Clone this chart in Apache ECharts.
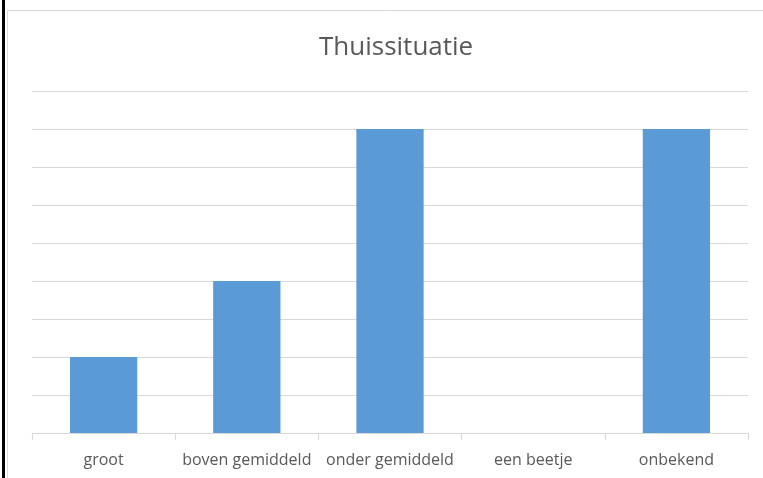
<!DOCTYPE html>
<html>
<head>
<meta charset="utf-8">
<script src="https://cdn.jsdelivr.net/npm/echarts@6/dist/echarts.min.js"></script>
<style>
  html, body { margin: 0; padding: 0; background: #fff; }
  #chart { width: 763px; height: 478px; }
</style>
</head>
<body>
<div id="chart"></div>
<script>
const categories = ['groot', 'boven gemiddeld', 'onder gemiddeld', 'een beetje', 'onbekend'];
const values = [2, 4, 8, 0, 8];

const chart = echarts.init(document.getElementById('chart'));

chart.setOption({
  animation: false,
  title: {
    text: 'Thuissituatie',
    left: 314,
    top: 30,
    textStyle: {
      fontFamily: 'Open Sans',
      fontSize: 26,
      fontWeight: 'normal',
      color: '#595959',
    },
  },
  graphic: [
    { type: 'rect', shape: { x: 2, y: 0, width: 3, height: 478 }, style: { fill: '#000' } },
    {
      type: 'rect',
      shape: { x: 7.5, y: 10.5, width: 770, height: 480 },
      style: { fill: null, stroke: '#d9d9d9', lineWidth: 1 },
    },
  ],
  grid: { left: 32, right: 15, top: 91, bottom: 45 },
  xAxis: {
    type: 'category',
    data: categories,
    axisLine: { lineStyle: { color: '#d9d9d9' } },
    axisTick: { show: true, length: 7, lineStyle: { color: '#d9d9d9' } },
    axisLabel: {
      margin: 19,
      fontFamily: 'Open Sans',
      fontSize: 16,
      color: '#595959',
      interval: 0,
    },
  },
  yAxis: {
    type: 'value',
    min: 0,
    max: 9,
    interval: 1,
    axisLabel: { show: false },
    axisLine: { show: false },
    axisTick: { show: false },
    splitLine: { lineStyle: { color: '#d9d9d9' } },
  },
  series: [
    {
      type: 'bar',
      data: values,
      barWidth: '47%',
      itemStyle: { color: '#5b9bd5' },
    },
  ],
});
</script>
</body>
</html>
